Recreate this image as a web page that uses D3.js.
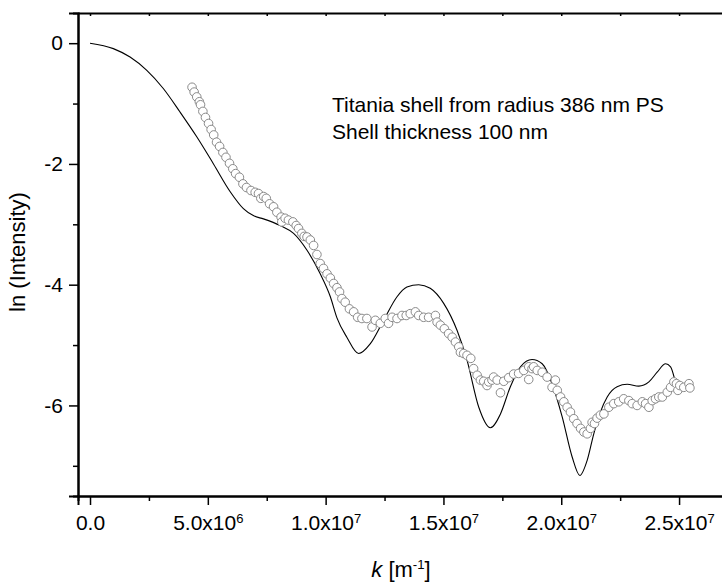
<!DOCTYPE html>
<html>
<head>
<meta charset="utf-8">
<script src="https://cdn.jsdelivr.net/npm/d3@7"></script>
<style>
    body{ margin:0; background:#fff; }
    svg text{ font-family: Arial, "Liberation Sans", sans-serif; fill:#000; }
</style>
</head>
<body>
<script>
// model curve (k in m^-1, ln intensity)
const modelK = [0, 0.99e6, 1.70e6, 2.41e6, 3.11e6, 3.82e6, 4.53e6, 5.24e6, 5.95e6, 6.51e6, 6.95e6,
    7.36e6, 8.07e6, 8.64e6, 9.21e6, 9.77e6, 1.02e7, 1.048e7, 1.09e7, 1.14e7, 1.189e7, 1.246e7,
    1.303e7, 1.345e7, 1.395e7, 1.444e7, 1.501e7, 1.558e7, 1.60e7, 1.65e7, 1.699e7, 1.742e7,
    1.784e7, 1.827e7, 1.876e7, 1.919e7, 1.961e7, 2.004e7, 2.046e7, 2.079e7, 2.11e7, 2.138e7,
    2.166e7, 2.195e7, 2.237e7, 2.28e7, 2.329e7, 2.372e7, 2.407e7, 2.443e7, 2.464e7, 2.481e7];
const modelLnI = [0, -0.09, -0.23, -0.45, -0.75, -1.14, -1.55, -2.0, -2.46, -2.74, -2.86,
    -2.91, -3.02, -3.15, -3.43, -3.82, -4.20, -4.55, -4.87, -5.14, -4.98, -4.59,
    -4.20, -4.04, -4.00, -4.06, -4.31, -4.76, -5.25, -6.03, -6.37, -6.14,
    -5.69, -5.36, -5.24, -5.31, -5.64, -6.19, -6.85, -7.16, -6.91, -6.47,
    -6.11, -5.86, -5.69, -5.65, -5.68, -5.61, -5.45, -5.31, -5.36, -5.56];

// measured points
const dataK = [4.33e6, 4.42e6, 4.53e6, 4.64e6, 4.69e6, 4.79e6, 4.90e6, 5.03e6, 5.14e6, 5.25e6,
    5.37e6, 5.50e6, 5.64e6, 5.77e6, 5.92e6, 6.06e6, 6.18e6, 6.34e6, 6.49e6, 6.64e6,
    6.83e6, 7.01e6, 7.15e6, 7.25e6, 7.37e6, 7.48e6, 7.62e6, 7.79e6, 7.93e6, 8.11e6,
    8.14e6, 8.28e6, 8.42e6, 8.61e6, 8.75e6, 8.85e6, 8.99e6, 9.09e6, 9.21e6, 9.35e6,
    9.49e6, 9.63e6, 9.77e6, 9.91e6, 1.006e7, 1.020e7, 1.034e7, 1.048e7, 1.059e7, 1.069e7,
    1.083e7, 1.101e7, 1.119e7, 1.136e7, 1.154e7, 1.175e7, 1.197e7, 1.211e7, 1.232e7, 1.253e7,
    1.267e7, 1.282e7, 1.303e7, 1.324e7, 1.342e7, 1.359e7, 1.381e7, 1.395e7, 1.416e7, 1.437e7,
    1.466e7, 1.473e7, 1.487e7, 1.504e7, 1.522e7, 1.537e7, 1.551e7, 1.565e7, 1.572e7, 1.586e7,
    1.600e7, 1.616e7, 1.628e7, 1.643e7, 1.657e7, 1.671e7, 1.685e7, 1.692e7, 1.706e7, 1.713e7,
    1.728e7, 1.742e7, 1.756e7, 1.777e7, 1.798e7, 1.819e7, 1.841e7, 1.862e7, 1.862e7, 1.876e7,
    1.883e7, 1.898e7, 1.919e7, 1.940e7, 1.961e7, 1.975e7, 1.983e7, 1.997e7, 2.011e7, 2.025e7,
    2.039e7, 2.053e7, 2.067e7, 2.082e7, 2.096e7, 2.110e7, 2.124e7, 2.131e7, 2.141e7, 2.152e7,
    2.166e7, 2.181e7, 2.202e7, 2.223e7, 2.244e7, 2.265e7, 2.287e7, 2.301e7, 2.322e7, 2.344e7,
    2.358e7, 2.372e7, 2.386e7, 2.400e7, 2.414e7, 2.429e7, 2.450e7, 2.464e7, 2.478e7, 2.489e7,
    2.495e7, 2.503e7, 2.520e7, 2.542e7, 2.546e7];
const dataLnI = [-0.73, -0.81, -0.89, -0.97, -1.02, -1.13, -1.23, -1.33, -1.43, -1.52,
    -1.64, -1.71, -1.81, -1.89, -1.99, -2.08, -2.16, -2.22, -2.33, -2.39,
    -2.44, -2.47, -2.49, -2.57, -2.54, -2.57, -2.66, -2.71, -2.80, -2.88,
    -2.96, -2.90, -2.93, -2.96, -3.02, -3.07, -3.15, -3.20, -3.21, -3.26,
    -3.35, -3.50, -3.65, -3.73, -3.82, -3.89, -3.98, -4.05, -4.12, -4.23,
    -4.29, -4.40, -4.45, -4.54, -4.56, -4.56, -4.70, -4.59, -4.64, -4.56,
    -4.64, -4.54, -4.56, -4.51, -4.51, -4.48, -4.45, -4.51, -4.54, -4.54,
    -4.51, -4.62, -4.67, -4.73, -4.81, -4.87, -4.95, -5.03, -5.12, -5.14,
    -5.17, -5.22, -5.39, -5.50, -5.58, -5.60, -5.67, -5.61, -5.58, -5.53,
    -5.58, -5.79, -5.60, -5.54, -5.48, -5.47, -5.42, -5.57, -5.36, -5.39,
    -5.36, -5.42, -5.45, -5.53, -5.70, -5.58, -5.75, -5.86, -5.94, -6.03,
    -6.11, -6.22, -6.30, -6.38, -6.44, -6.47, -6.38, -6.28, -6.30, -6.21,
    -6.16, -6.14, -6.03, -5.97, -5.94, -5.89, -5.92, -5.97, -6.00, -5.94,
    -5.97, -6.03, -5.92, -5.89, -5.86, -5.86, -5.78, -5.70, -5.61, -5.64,
    -5.75, -5.67, -5.70, -5.64, -5.71];

const xMajor = [0, 5e6, 1e7, 1.5e7, 2e7, 2.5e7];
const xMinor = [2.5e6, 7.5e6, 1.25e7, 1.75e7, 2.25e7];
const yMajor = [0, -2, -4, -6];
const yMinor = [-1, -3, -5, -7];
const annotation = ['Titania shell from radius 386 nm PS', 'Shell thickness 100 nm'];

const W = 722, H = 583;
const padLeft = 78, padTop = 13, padBottom = 496;
const font = 'Arial, "Liberation Sans", sans-serif';

const x = d3.scaleLinear().domain([-5.1e5, 2.72e7]).range([padLeft, padLeft + 652.9]);
const y = d3.scaleLinear().domain([0.5, -7.5]).range([padTop, padBottom]);

const svg = d3.select('body').append('svg').attr('width', W).attr('height', H);

// axes
function fmtK(g){
    g.selectAll('.tick text').each(function(d){
        let t = d3.select(this).text(null);
        if(d === 0){ t.text('0.0'); return; }
        let e = Math.floor(Math.log10(d));
        t.append('tspan').text((d / Math.pow(10, e)).toFixed(1) + 'x10');
        t.append('tspan').attr('dy', '-0.5em').attr('font-size', '0.62em').text(e);
    });
}

let gx = svg.append('g').attr('transform', `translate(0,${padBottom})`)
    .call(d3.axisBottom(x).tickValues(xMajor).tickSize(9).tickPadding(10))
    .call(fmtK);
gx.selectAll('.tick text').attr('font-size', 21).attr('font-family', font);
svg.append('g').attr('transform', `translate(0,${padBottom})`)
    .call(d3.axisBottom(x).tickValues(xMinor).tickSize(5).tickFormat(''));

let gy = svg.append('g').attr('transform', `translate(${padLeft},0)`)
    .call(d3.axisLeft(y).tickValues(yMajor).tickSize(9).tickPadding(6).tickFormat(d => String(d)));
gy.selectAll('.tick text').attr('font-size', 21).attr('font-family', font);
svg.append('g').attr('transform', `translate(${padLeft},0)`)
    .call(d3.axisLeft(y).tickValues(yMinor).tickSize(5).tickFormat(''));

// top frame with short inward ticks
svg.append('g').attr('transform', `translate(0,${padTop})`)
    .call(d3.axisTop(x).tickValues(xMajor.concat(xMinor)).tickSizeInner(-3).tickSizeOuter(0).tickFormat(''));

svg.selectAll('.domain').attr('stroke-width', 2);
svg.selectAll('.tick line').attr('stroke-width', 1.5);

// model line
const line = d3.line().x((d, i) => x(modelK[i])).y(d => y(d)).curve(d3.curveMonotoneX);
svg.append('path').datum(modelLnI)
    .attr('d', line)
    .attr('fill', 'none').attr('stroke', '#000').attr('stroke-width', 1.1);

// measured points
svg.append('g').selectAll('circle')
    .data(dataLnI)
    .join('circle')
    .attr('cx', (d, i) => x(dataK[i]))
    .attr('cy', d => y(d))
    .attr('r', 4.3)
    .attr('fill', '#fff')
    .attr('stroke', '#8a8a8a')
    .attr('stroke-width', 1);

// annotation
svg.append('g').selectAll('text')
    .data(annotation)
    .join('text')
    .attr('x', 332).attr('y', (d, i) => 112 + i * 27)
    .attr('font-size', 21)
    .text(d => d);

// axis titles
let xt = svg.append('text').attr('x', 401).attr('y', 577).attr('text-anchor', 'middle').attr('font-size', 22);
xt.append('tspan').attr('font-style', 'italic').text('k');
xt.append('tspan').text(' [m');
xt.append('tspan').attr('dy', '-0.6em').attr('font-size', '0.6em').text('-1');
xt.append('tspan').attr('dy', '0.36em').text(']');

svg.append('text')
    .attr('transform', 'translate(25,252) rotate(-90)')
    .attr('text-anchor', 'middle').attr('font-size', 22)
    .text('ln (Intensity)');
</script>
</body>
</html>
